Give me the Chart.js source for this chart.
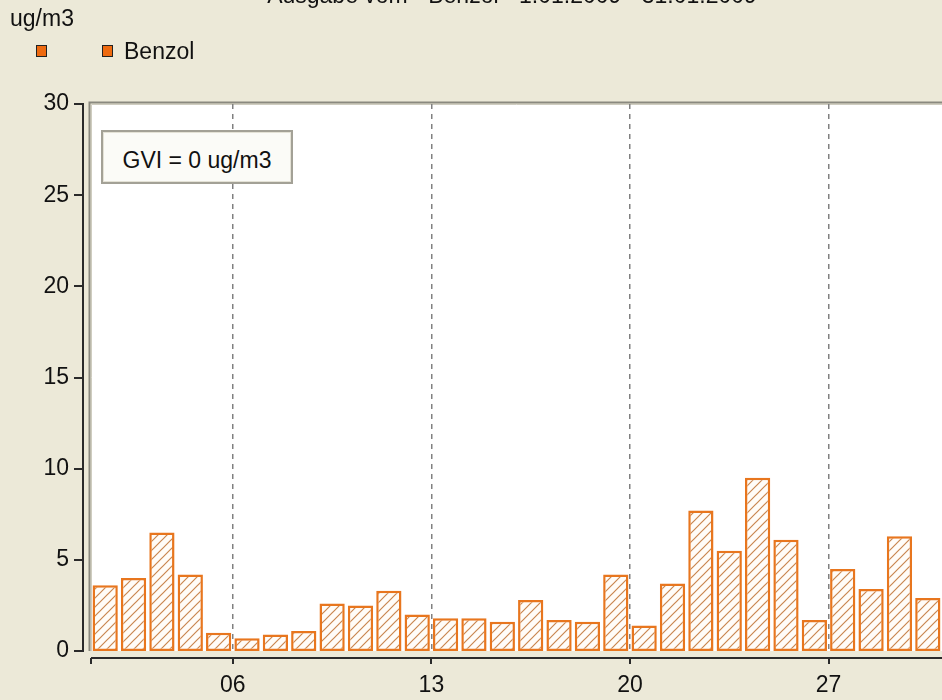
<!DOCTYPE html>
<html>
<head>
<meta charset="utf-8">
<script src="https://cdn.jsdelivr.net/npm/chart.js@4"></script>
<style>
  html, body { margin: 0; padding: 0; background: #ECE9D8; overflow: hidden; }
  body { width: 942px; height: 700px; position: relative; font-family: "Liberation Sans", Arial, sans-serif; color: #111; }
  #chart { position: absolute; left: 0; top: 0; }
  .txt { position: absolute; font-size: 23px; line-height: 23px; white-space: nowrap; }
  .sq { position: absolute; width: 9px; height: 10px; background: #EE6A10; border: 1px solid #222; }
  #gvi { position: absolute; left: 101px; top: 130px; width: 192px; height: 54px; box-sizing: border-box;
         border: 2px solid #a3a196; box-shadow: inset 0 0 0 1px #e4e2d6; background: #fbfbf7;
         font-size: 23px; line-height: 23px; text-align: center; padding-top: 17px; }
</style>
</head>
<body>
<canvas id="chart" width="942" height="700"></canvas>
<div class="txt" id="title" style="left:0; width:1024px; text-align:center; top:-16px;">Ausgabe vom - Benzol - 1.01.2009 - 31.01.2009</div>
<div class="txt" style="left:10px; top:7px;">ug/m3</div>
<div class="sq" style="left:36px; top:45px;"></div>
<div class="sq" style="left:102px; top:45px;"></div>
<div class="txt" style="left:124px; top:40px;">Benzol</div>
<div id="gvi">GVI = 0 ug/m3</div>
<script>
'use strict';
// Data: day of month and daily benzene values (ug/m3)
const days = [1, 2, 3, 4, 5, 6, 7, 8, 9, 10, 11, 12, 13, 14, 15, 16, 17, 18, 19, 20, 21, 22, 23, 24, 25, 26, 27, 28, 29, 30];
const benzol = [3.6, 4.0, 6.5, 4.2, 1.0, 0.7, 0.9, 1.1, 2.6, 2.5, 3.3, 2.0, 1.8, 1.8, 1.6, 2.8, 1.7, 1.6, 4.2, 1.4, 3.7, 7.7, 5.5, 9.5, 6.1, 1.7, 4.5, 3.4, 6.3, 2.9];
const tickDays = [6, 13, 20, 27];
const tickLabels = ['06', '13', '20', '27'];
const yTicks = [0, 5, 10, 15, 20, 25, 30];

const FONT = '"Liberation Sans", Arial, sans-serif';

// hatch fill for the bars
function hatchPattern() {
  const t = document.createElement('canvas');
  t.width = 9; t.height = 9;
  const c = t.getContext('2d');
  c.fillStyle = '#fffcf8';
  c.fillRect(0, 0, 9, 9);
  c.strokeStyle = '#c98650';
  c.lineWidth = 1.2;
  c.beginPath();
  c.moveTo(0, 9); c.lineTo(9, 0);
  c.moveTo(-1, 1); c.lineTo(1, -1);
  c.moveTo(8, 10); c.lineTo(10, 8);
  c.stroke();
  return c.createPattern(t, 'repeat');
}

// white plot background with sunken border, then hand-drawn offset axes
const frame = {
  id: 'frame',
  beforeDraw(chart) {
    const {ctx, chartArea: a} = chart;
    ctx.save();
    ctx.fillStyle = '#ffffff';
    ctx.fillRect(a.left, a.top, a.right - a.left, a.bottom - a.top);
    ctx.lineWidth = 2;
    ctx.strokeStyle = '#8a897f';
    ctx.beginPath();
    ctx.moveTo(a.left - 1.5, a.bottom); ctx.lineTo(a.left - 1.5, a.top - 1.5); ctx.lineTo(a.right, a.top - 1.5);
    ctx.stroke();
    ctx.lineWidth = 1;
    ctx.strokeStyle = '#cfcdc0';
    ctx.beginPath();
    ctx.moveTo(a.left + 0.5, a.bottom); ctx.lineTo(a.left + 0.5, a.top + 0.5); ctx.lineTo(a.right, a.top + 0.5);
    ctx.stroke();
    ctx.restore();
  },
  afterDraw(chart) {
    const {ctx, chartArea: a, scales: {x, y}} = chart;
    ctx.save();
    ctx.strokeStyle = '#2a2a2a';
    ctx.lineWidth = 2;
    // x axis, a little below the plot
    const y0 = a.bottom + 7;
    ctx.beginPath();
    ctx.moveTo(x.getPixelForValue(1), y0); ctx.lineTo(chart.width, y0);
    [1, ...tickDays].forEach(v => {
      const px = Math.round(x.getPixelForValue(v));
      ctx.moveTo(px, y0); ctx.lineTo(px, y0 + 6);
    });
    ctx.stroke();
    // y axis, a little left of the plot
    const x0 = a.left - 8;
    ctx.beginPath();
    ctx.moveTo(x0, y.getPixelForValue(30)); ctx.lineTo(x0, y.getPixelForValue(0));
    yTicks.forEach(v => {
      const py = Math.round(y.getPixelForValue(v));
      ctx.moveTo(x0 - 9, py); ctx.lineTo(x0 + 1, py);
    });
    ctx.stroke();
    ctx.restore();
  }
};

const ctx = document.getElementById('chart').getContext('2d');
new Chart(ctx, {
  type: 'bar',
  data: {
    datasets: [{
      label: 'Benzol',
      data: days.map((d, i) => ({x: d + 0.5, y: benzol[i]})),
      backgroundColor: hatchPattern(),
      borderColor: '#e8761e',
      borderWidth: 2.5,
      borderSkipped: false,
      categoryPercentage: 1,
      barPercentage: 0.89
    }]
  },
  options: {
    responsive: false,
    animation: false,
    layout: {padding: {top: 104, left: 0, right: 0, bottom: 0}},
    plugins: {legend: {display: false}, title: {display: false}, tooltip: {enabled: false}},
    scales: {
      x: {
        type: 'linear',
        min: 1,
        max: 31,
        offset: false,
        afterBuildTicks: s => { s.ticks = tickDays.map(v => ({value: v})); },
        afterFit: s => { s.height = 49; },
        grid: {color: '#808080', lineWidth: 1.5, drawTicks: false, offset: false},
        border: {display: false, dash: [5, 5]},
        ticks: {
          padding: 21,
          color: '#111',
          font: {family: FONT, size: 23},
          maxRotation: 0,
          callback: (v) => { const i = tickDays.indexOf(v); return i >= 0 ? tickLabels[i] : ''; }
        }
      },
      y: {
        min: 0,
        max: 30,
        afterBuildTicks: s => { s.ticks = yTicks.map(v => ({value: v})); },
        afterFit: s => { s.width = 91; },
        grid: {display: false, drawTicks: false},
        border: {display: false},
        ticks: {
          padding: 22,
          color: '#111',
          font: {family: FONT, size: 23}
        }
      }
    }
  },
  plugins: [frame]
});
</script>
</body>
</html>
